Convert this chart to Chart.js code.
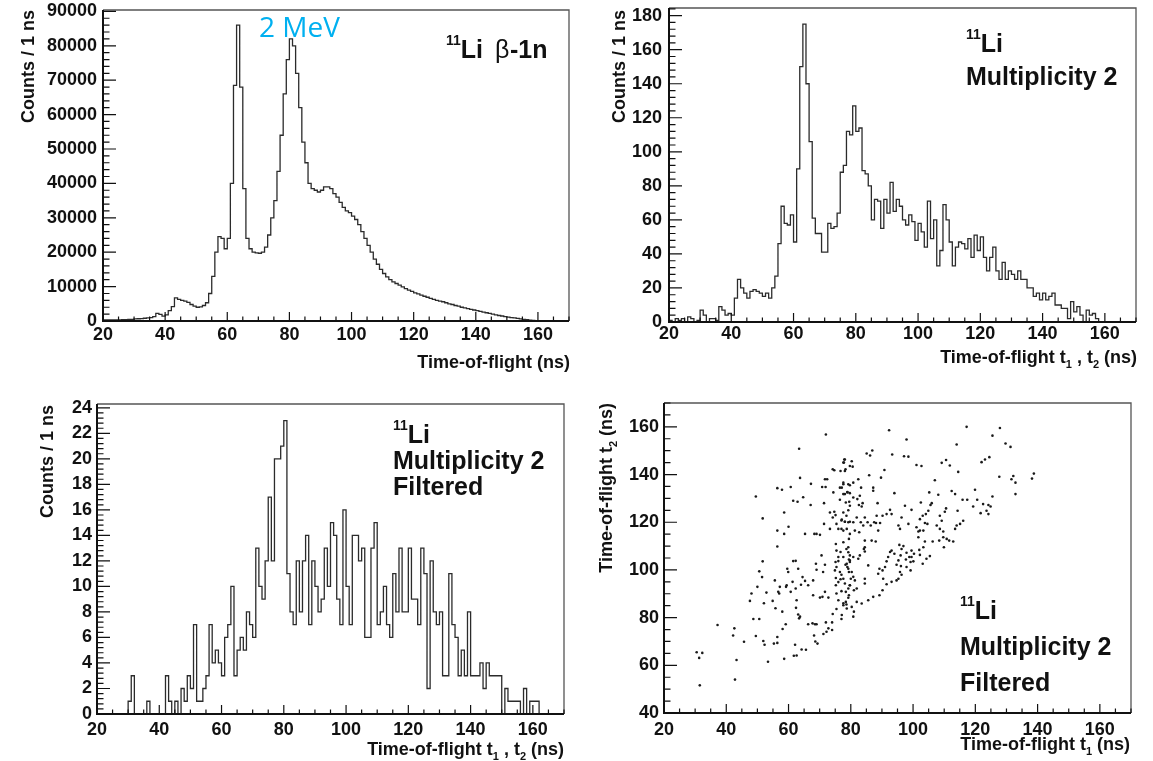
<!DOCTYPE html>
<html lang="en">
<head>
<meta charset="UTF-8">
<title>11Li time-of-flight spectra</title>
<script src="https://cdn.jsdelivr.net/npm/chart.js"></script>
<style>
  body { margin: 0; background: #fff; width: 1153px; height: 761px; overflow: hidden; position: relative; }
  canvas { position: absolute; }
</style>
</head>
<body>
<canvas id="tl"></canvas>
<canvas id="tr"></canvas>
<canvas id="bl"></canvas>
<canvas id="br"></canvas>
<script>
// 1 ns bins, first bin starts at 20 ns
const binStart = 20;
const xTickValues = [20, 40, 60, 80, 100, 120, 140, 160];

// 11Li beta-1n, counts per bin from 20 ns
const betaCounts = [
  300, 300, 350, 300, 300, 350, 400, 400, 450, 500,
  600, 650, 700, 800, 900, 1000, 1300, 2200, 1900, 1400,
  1800, 3000, 4200, 6700, 6300, 6000, 5800, 5400, 4800, 4300,
  4000, 4100, 4500, 5300, 8000, 13000, 20000, 24500, 24000, 21000,
  24000, 40000, 68500, 86000, 68000, 38500, 24000, 21000, 20000, 19800,
  19700, 20000, 21500, 25000, 30000, 35000, 43500, 54000, 66000, 76000,
  82000, 80000, 72000, 62000, 52000, 46000, 40000, 38500, 38000, 37500,
  38000, 39000, 39000, 38500, 37000, 36000, 34500, 33000, 32000, 31500,
  30500, 29500, 28000, 26000, 24000, 22000, 20000, 18000, 16500, 15000,
  13800, 12800, 12000, 11400, 10900, 10400, 9900, 9400, 9000, 8600,
  8200, 7900, 7500, 7200, 6900, 6600, 6300, 6000, 5800, 5600,
  5300, 5000, 4800, 4500, 4300, 4000, 3800, 3600, 3400, 3200,
  3000, 2800, 2600, 2400, 2200, 2000, 1800, 1600, 1450, 1300,
  1150, 1000, 900, 750, 600, 480, 360, 250, 150, 80,
  30, 0
];

// multiplicity 2
const multCounts = [
  1, 0, 2, 1, 2, 0, 3, 2, 0, 1,
  7, 4, 0, 2, 2, 1, 9, 7, 4, 5,
  4, 14, 25, 20, 17, 14, 18, 19, 18, 17,
  15, 17, 14, 20, 27, 46, 68, 58, 57, 63,
  47, 90, 150, 175, 140, 106, 61, 52, 52, 41,
  41, 58, 55, 56, 64, 88, 92, 112, 110, 127,
  112, 114, 89, 87, 80, 60, 72, 71, 55, 72,
  64, 82, 65, 72, 68, 60, 57, 63, 59, 48,
  58, 53, 44, 71, 49, 60, 33, 42, 69, 60,
  47, 33, 44, 47, 46, 43, 49, 38, 51, 42,
  50, 38, 30, 38, 44, 30, 25, 35, 25, 30,
  28, 25, 30, 25, 25, 20, 20, 15, 17, 13,
  17, 13, 15, 17, 10, 10, 8, 8, 2, 12,
  6, 9, 4, 0, 7, 4, 5, 2, 0, 0
];

// multiplicity 2, filtered
const filtCounts = [
  0, 0, 0, 0, 0, 0, 0, 0, 0, 0,
  1, 3, 0, 0, 0, 0, 1, 0, 0, 0,
  0, 0, 3, 1, 0, 1, 0, 2, 1, 3,
  2, 7, 1, 1, 2, 3, 7, 4, 5, 4,
  3, 6, 7, 10, 3, 5, 6, 5, 8, 7,
  6, 13, 10, 9, 12, 17, 12, 20, 20, 21,
  23, 11, 8, 7, 12, 8, 12, 14, 7, 12,
  10, 8, 9, 13, 10, 15, 14, 9, 7, 16,
  10, 7, 14, 14, 12, 13, 6, 6, 13, 15,
  7, 8, 10, 7, 6, 11, 8, 13, 8, 8,
  13, 9, 9, 7, 13, 11, 2, 12, 8, 7,
  8, 3, 3, 11, 7, 6, 3, 5, 3, 8,
  3, 3, 3, 4, 2, 4, 3, 3, 3, 3,
  0, 2, 1, 1, 1, 1, 0, 2, 0, 1,
  1, 1
];

// filtered events, [t1, t2] in ns
const eventPairs = [
  [72,156.8],[63.4,150.8],[77.9,146.3],[77.6,145],[74.2,142.2],[74.7,141.8],[76.7,141.5],[78.3,142.2],
  [71.7,138],[72.4,138],[63.7,138.6],[56.4,134.3],[57.9,133.6],[60.7,134.8],[67.2,136.1],[70.8,134.8],
  [71.9,134.8],[74.4,132.5],[76.5,134.5],[77.6,135.9],[79.2,135.9],[78.9,132.5],[49.5,130.8],[61.5,129],
  [62.9,128.6],[64.7,130.5],[67.1,127.2],[71.4,128],[76.5,129.4],[78.1,131.8],[58.6,124.1],[51.7,121.6],
  [73.3,124.1],[74.7,124.4],[75.1,123],[74.2,122],[77.6,124.1],[78.6,122.7],[77,120.7],[78.1,120.2],
  [79.2,120],[75.4,119.3],[76,117.2],[77,117.2],[77.6,116.5],[71.4,119.3],[73.3,117.2],[56.4,116.5],
  [58.6,115.1],[60,118.1],[65.3,115.1],[68.3,115.1],[69,115.1],[70.1,114.7],[56.4,109.8],[75.2,110.9],
  [77.6,111.6],[78.6,108.8],[79.2,107.4],[70.6,106.1],[51.7,103.6],[61.5,103.7],[62.3,103.8],[68.8,102.6],
  [71.7,102.2],[71.1,99.1],[69,100.1],[75.1,103.3],[76,103.7],[75.4,101.2],[74.9,99.8],[76.5,99.1],
  [78.3,102.2],[78.9,101.2],[77,98],[77.6,96.3],[50.6,99.4],[51.5,97],[59.6,100.5],[59.9,99.1],
  [63.1,100.5],[55.6,95.6],[57.2,92.9],[59.2,92.9],[59.4,93.6],[56.7,90.8],[57,90.1],[61.3,95],
  [62.3,92.2],[60.7,90.8],[64.5,97],[65.3,95.4],[64,93.8],[66.3,93.6],[67.9,95.6],[50,92.9],
  [48.1,90.1],[47.6,87],[52.9,90.5],[52.1,86],[54.9,87],[55.8,83.9],[58,82.5],[62.6,87.3],
  [62.4,84.1],[63.1,81.3],[63.7,80.4],[63.4,79.7],[67.9,89.4],[70.1,88.4],[70.9,88.7],[71.7,90.8],
  [72.8,88.4],[75.4,90.1],[76,87.3],[77.6,86],[78.4,86.6],[79.2,88.3],[75.4,83.6],[74.2,81.5],
  [77,79.4],[48.7,79.4],[50.6,79.4],[37.2,76.9],[42.6,75.5],[42.2,72.5],[45.7,69.9],[49.5,72.3],
  [51.9,70.2],[52.3,68.6],[55.3,69.1],[56.4,69.4],[56.4,71.9],[58.1,75.2],[59.1,77.2],[66.3,77.2],
  [67.7,77.6],[68.5,77.2],[69,77.2],[72,78],[72.8,75.5],[74,78],[74,74.8],[72.2,74.1],
  [71.2,73.1],[68.2,72.5],[68.6,70],[69.3,69.1],[62.1,68.6],[64.2,66.6],[65.6,66.5],[61.7,64],
  [62.6,64.1],[58.6,62.7],[53.4,61.5],[43.3,62.2],[30.5,65.5],[32.3,65.2],[31.3,63.1],[31.5,51.6],
  [42.8,54],[79.7,126.9],[79.2,125],[79.7,115.1],[79.4,113],[79.2,109.5],[79.7,106.1],[79.4,104.4],
  [79.7,103.3],[79.4,99.1],[79.7,93.6],[79.4,89.4],[78.6,85.5],[75.4,108.1],[76.7,107.5],[76,105.4],
  [77.6,105.4],[75.2,96.6],[76,94.9],[76.7,96.1],[75.2,93.6],[78.1,94.3],[77,91.1],
  [92.3,158.6],[117.2,160],[127.9,159.5],[125.5,156.3],[97.9,154.7],[114,152.6],[129.7,153],[131.3,151.6],
  [85.1,148.8],[86.2,148],[86.9,150.1],[93.3,148.4],[97.1,147.7],[98.5,147.5],[101.1,144],[102.7,143.6],
  [109.2,144.9],[110.6,146.1],[111.8,143.8],[114.5,141.1],[122,145.2],[123.1,146.3],[124.5,147.3],[127.7,139.1],
  [132.2,139.4],[132.9,136.6],[131.6,138],[132.9,131.8],[78.1,146.3],[77.8,145],[80.3,145.6],[79.7,143.6],
  [80.6,143.3],[78.1,141.5],[85.9,139.7],[89.7,138.7],[90.8,141.9],[82.4,138],[80.8,136.6],[79.7,135.5],
  [77.6,136.6],[77.1,134.5],[87.2,134.5],[87.2,133.2],[83.3,134.5],[82.9,131.1],[82.1,129.7],[80.8,130.4],
  [79.7,132.2],[78.9,132.7],[77.6,131.8],[78.4,128.3],[79.5,128.6],[82.6,127.2],[83.8,128],[83.5,126.6],
  [88.6,128],[94,132.2],[97.4,126.9],[99.5,125.2],[102.5,128.3],[105.6,127.2],[106,128],[105.2,132.5],
  [107,137.6],[108.1,131.5],[112.4,133.1],[113.5,131.8],[115.9,129.4],[117.4,129.4],[119.9,133.6],[120.6,129.4],
  [122.5,127.6],[124.2,127.2],[124.9,126.6],[123.6,124.8],[121.7,123.8],[124.2,123.4],[125.5,130.8],[119.3,126.6],
  [114.3,124.8],[110.6,125.8],[110.2,124.4],[108.6,122.7],[104.9,124.8],[104.1,123.4],[103.1,122.7],[102.2,121.3],
  [116.1,120.6],[115.1,119.3],[114,118.6],[113.5,117.2],[107.6,118.6],[108.6,117.2],[109.7,116.1],[109.2,120.6],
  [104.6,119.3],[103.8,119.7],[103.3,116.5],[101.7,116.1],[101.1,117.9],[96.3,122],[98.5,119.3],[95.3,118.6],
  [95.8,117.2],[92.6,125.2],[91.5,123.4],[93.1,123.4],[90.2,122.7],[88.3,122.7],[89.4,119.7],[87.5,120],
  [86.4,118.6],[84.5,122],[85.4,120],[84,118.6],[83.2,120],[81.9,122],[80.8,120],[79.7,120.2],
  [78.1,120.2],[77.1,121.1],[78.7,117.2],[81.3,116.5],[82.7,115.8],[88.1,119.7],[88.8,116.5],[88,111.9],
  [86.7,112.3],[84.5,112.3],[84.2,108.8],[84.5,107.7],[101.7,113.7],[102.2,116.5],[106.3,111.9],[108.4,112.3],
  [109.7,113.7],[110.8,113],[111.6,112.3],[112.9,111.9],[109.9,109.5],[103.8,111.9],[103.3,109.5],[102,108.4],
  [102.2,106.3],[100.3,106.8],[99.5,108.1],[99.2,103.3],[100.1,103.6],[99.5,105.4],[105.4,105.8],[104.3,104.7],
  [103.1,102.6],[95.6,110.5],[96.9,110],[96.3,108.8],[96,106.1],[95.3,104],[94,106.8],[93.1,108.1],
  [92.6,107.5],[92,105.4],[91.5,103.6],[97.9,107.2],[97.7,104.4],[98.8,105.4],[94.7,102.2],[96.1,101.6],
  [95.8,99.1],[91,101.2],[90.2,99.8],[89.2,100.5],[88.8,98.4],[85.6,101.9],[84.5,109.5],[82.9,106.1],
  [82.4,104.7],[80.8,105.4],[79.7,104],[78.7,102.6],[79.2,100.5],[80.3,99.1],[80.8,97.1],[80,96.3],
  [81.3,95.6],[79.7,93.6],[81.9,92.2],[81,91.5],[79.2,92.2],[78.4,90.8],[84.5,96.3],[84.5,94.3],
  [90.4,96.3],[91.5,94],[93.1,95],[94.7,95.6],[95.3,96.3],[96.3,98],[90.2,91.5],[89.2,89.4],
  [87.2,88.7],[85.6,87.3],[83.5,85.9],[81.9,86.6],[80.3,84.5],[78.7,83.8],[77.6,85.2],[77.1,81.1],
  [81,82.5],[80.8,80.4],[97.9,101.2],[99.2,99.8],[138.2,138.3],[138.8,140.4]
];

const FONT = "'Liberation Sans', Arial, Helvetica, sans-serif";
const tickFont = { family: FONT, size: 18, weight: 'bold' };

function histPoints(counts) {
  let pts = [{ x: binStart, y: 0 }];
  counts.forEach((c, i) => pts.push({ x: binStart + i, y: c }));
  let end = binStart + counts.length;
  pts.push({ x: end, y: counts[counts.length - 1] }, { x: end, y: 0 });
  return pts;
}

// text pieces: [text, size, weight, dy, colour, family]
function drawRich(ctx, parts, x, y, align) {
  let w = 0;
  parts.forEach(p => {
    ctx.font = p[2] + ' ' + p[1] + 'px ' + (p[5] || FONT);
    w += ctx.measureText(p[0]).width;
  });
  let cx = align === 'right' ? x - w : x;
  ctx.textAlign = 'left';
  ctx.textBaseline = 'alphabetic';
  parts.forEach(p => {
    ctx.font = p[2] + ' ' + p[1] + 'px ' + (p[5] || FONT);
    ctx.fillStyle = p[4] || '#111';
    ctx.fillText(p[0], cx, y + (p[3] || 0));
    cx += ctx.measureText(p[0]).width;
  });
}

function yTitle(ctx, parts, cx, top) {
  ctx.save();
  ctx.translate(cx, top);
  ctx.rotate(-Math.PI / 2);
  drawRich(ctx, parts, 0, 6.5, 'right');
  ctx.restore();
}

function label(lines, x, y0, gaps) {
  return ctx => {
    let y = y0;
    lines.forEach((ln, i) => { drawRich(ctx, ln, x, y, 'left'); y += gaps[i] || 0; });
  };
}

const li = [['11', 14, 'bold', -13], ['Li', 25, 'bold', 0]];
const multi = [['Multiplicity 2', 25, 'bold', 0]];
const filt = [['Filtered', 25, 'bold', 0]];
const countsTitle = [['Counts / 1 ns', 18, 'bold', 0]];
const tofBoth = [['Time-of-flight t', 18, 'bold', 0], ['1', 11, 'bold', 5], [' , t', 18, 'bold', 0], ['2', 11, 'bold', 5], [' (ns)', 18, 'bold', 0]];

const panels = [
  {
    id: 'tl', plot: { l: 103, t: 10, r: 569, b: 321 },
    y: { min: 0, max: 90400, major: 10000, minor: 2000 }, xPad: 3, yPad: 6,
    data: histPoints(betaCounts), type: 'line',
    draw: ctx => {
      yTitle(ctx, countsTitle, 27, 10);
      drawRich(ctx, [['Time-of-flight (ns)', 18, 'bold', 0]], 570, 368, 'right');
      drawRich(ctx, [['11', 14, 'bold', -13], ['Li', 25, 'bold', 0]], 446, 58, 'left');
      drawRich(ctx, [['\u03b2', 25, 'normal', 0]], 495, 58, 'left');
      drawRich(ctx, [['-1n', 25, 'bold', 0]], 510, 58, 'left');
      drawRich(ctx, [['2 MeV', 28, 'normal', 0, '#00b0f0', "'Open Sans', 'Noto Sans', sans-serif"]], 259, 37, 'left');
    }
  },
  {
    id: 'tr', plot: { l: 669, t: 8, r: 1136, b: 322 },
    y: { min: 0, max: 184.5, major: 20, minor: 4 }, xPad: 1, yPad: 7,
    data: histPoints(multCounts), type: 'line',
    draw: ctx => {
      yTitle(ctx, countsTitle, 618, 10);
      drawRich(ctx, tofBoth, 1137, 363, 'right');
      label([li, multi], 966, 52, [33])(ctx);
    }
  },
  {
    id: 'bl', plot: { l: 97, t: 404, r: 564, b: 714 },
    y: { min: 0, max: 24.3, major: 2, minor: 0.4 }, xPad: 5, yPad: 5,
    data: histPoints(filtCounts), type: 'line',
    draw: ctx => {
      yTitle(ctx, countsTitle, 46, 405);
      drawRich(ctx, tofBoth, 564, 755, 'right');
      label([li, multi, filt], 393, 443, [26, 26])(ctx);
    }
  },
  {
    id: 'br', plot: { l: 664, t: 403, r: 1131, b: 713 },
    y: { min: 40, max: 170, major: 20, minor: 5 }, xPad: 6, yPad: 5,
    data: eventPairs.map(p => ({ x: p[0], y: p[1] })), type: 'scatter',
    draw: ctx => {
      yTitle(ctx, [['Time-of-flight t', 18, 'bold', 0], ['2', 11, 'bold', 5], [' (ns)', 18, 'bold', 0]], 605, 403);
      drawRich(ctx, [['Time-of-flight t', 18, 'bold', 0], ['1', 11, 'bold', 5], [' (ns)', 18, 'bold', 0]], 1130, 750, 'right');
      label([li, multi, filt], 960, 619, [36, 36])(ctx);
    }
  }
];

// y tick values for one panel: min .. max in major steps
function yTickValues(p) {
  const vals = [];
  for (let i = 0; ; i++) {
    const v = p.y.min + i * p.y.major;
    if (v > p.y.max + 1e-6) break;
    vals.push(Math.round(v * 1000) / 1000);
  }
  return vals;
}

function makeFramePlugin(p, box) {
  return {
    id: 'rootFrame',
    afterDraw(chart) {
      const { ctx, chartArea: a, scales: { x, y } } = chart;
      ctx.save();
      ctx.strokeStyle = '#555';
      ctx.lineWidth = 1.3;
      ctx.beginPath();
      ctx.moveTo(a.left, a.top); ctx.lineTo(a.right, a.top); ctx.lineTo(a.right, a.bottom);
      ctx.stroke();
      ctx.strokeStyle = '#111';
      ctx.lineWidth = 2;
      ctx.beginPath();
      ctx.moveTo(a.left, a.top); ctx.lineTo(a.left, a.bottom); ctx.lineTo(a.right, a.bottom);
      ctx.stroke();

      // ROOT style ticks, pointing into the frame
      ctx.lineWidth = 1.2;
      ctx.beginPath();
      for (let i = 0; ; i++) {
        const v = x.min + i * 5;
        if (v > x.max + 1e-6) break;
        const px = x.getPixelForValue(v);
        const len = (v - x.min) % 20 === 0 ? 9 : 4.5;
        ctx.moveTo(px, a.bottom); ctx.lineTo(px, a.bottom - len);
      }
      for (let i = 0; ; i++) {
        const v = p.y.min + i * p.y.minor;
        if (v > y.max + 1e-6) break;
        const k = (v - p.y.min) / p.y.major;
        const len = Math.abs(k - Math.round(k)) < 1e-6 ? 13 : 6.5;
        const py = y.getPixelForValue(v);
        ctx.moveTo(a.left, py); ctx.lineTo(a.left + len, py);
      }
      ctx.stroke();
      ctx.restore();

      ctx.save();
      ctx.translate(-box.left, -box.top);
      p.draw(ctx);
      ctx.restore();
    }
  };
}

panels.forEach(p => {
  const box = {
    left: p.plot.l - 110, top: p.plot.t - 20,
    width: p.plot.r - p.plot.l + 130, height: p.plot.b - p.plot.t + 80
  };
  const canvas = document.getElementById(p.id);
  canvas.style.left = box.left + 'px';
  canvas.style.top = box.top + 'px';
  canvas.width = box.width;
  canvas.height = box.height;

  const dataset = p.type === 'line'
    ? { data: p.data, stepped: true, borderColor: '#2b2b2b', borderWidth: 1.3, pointRadius: 0, fill: false, tension: 0 }
    : { data: p.data, backgroundColor: '#1a1a1a', borderWidth: 0, pointRadius: 1.3, pointHoverRadius: 1.3 };

  const yTicks = yTickValues(p);

  new Chart(canvas, {
    type: p.type,
    data: { datasets: [dataset] },
    options: {
      responsive: false,
      animation: false,
      devicePixelRatio: 1,
      events: [],
      layout: { padding: { left: 0, top: 20, right: 20, bottom: 0 } },
      plugins: { legend: { display: false }, tooltip: { enabled: false } },
      scales: {
        x: {
          type: 'linear', min: 20, max: 170,
          afterFit: s => { s.height = 60; },
          afterBuildTicks: s => { s.ticks = xTickValues.map(v => ({ value: v })); },
          grid: { display: false, drawTicks: false },
          border: { display: false },
          ticks: { padding: p.xPad, font: tickFont, color: '#111',
                   maxRotation: 0, autoSkip: false, callback: v => String(v) }
        },
        y: {
          type: 'linear', min: p.y.min, max: p.y.max,
          afterFit: s => { s.width = 110; },
          afterBuildTicks: s => { s.ticks = yTicks.map(v => ({ value: v })); },
          grid: { display: false, drawTicks: false },
          border: { display: false },
          ticks: { padding: p.yPad, font: tickFont, color: '#111',
                   autoSkip: false, callback: v => String(v) }
        }
      }
    },
    plugins: [makeFramePlugin(p, box)]
  });
});
</script>
</body>
</html>
